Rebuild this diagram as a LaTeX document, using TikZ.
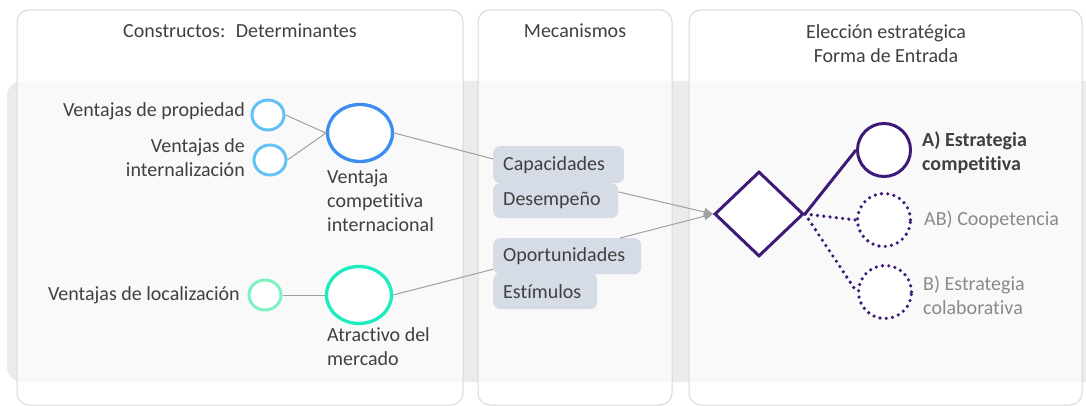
\documentclass[tikz,border=0pt]{standalone}
\usepackage{fontspec}
\setmainfont{Carlito}[Ligatures={NoCommon,NoRare,NoDiscretionary}]
\usetikzlibrary{shapes.geometric,arrows.meta}
\definecolor{bandgray}{HTML}{EBEBEB}
\definecolor{panelline}{HTML}{D9D9D9}
\definecolor{txt}{HTML}{404040}
\definecolor{ltxt}{HTML}{8A8A8A}
\definecolor{lblue}{HTML}{62C2F6}
\definecolor{mblue}{HTML}{3D8EF0}
\definecolor{lgreen}{HTML}{7EF2C0}
\definecolor{tgreen}{HTML}{1DEBC0}
\definecolor{purp}{HTML}{3D1A78}
\definecolor{mechfill}{HTML}{D6DCE5}
\definecolor{connc}{HTML}{A0A0A0}
\begin{document}
\begin{tikzpicture}[x=1pt,y=-1pt,
  lbl/.style={inner sep=0, text=txt, font=\fontsize{20}{24}\selectfont},
  panel/.style={draw=panelline, line width=1, fill=white, fill opacity=0.7, rounded corners=12},
  sc/.style={ellipse, fill=white, line width=3, minimum width=32, minimum height=30, inner sep=0},
  bc/.style={ellipse, fill=white, line width=3.3, minimum width=65, minimum height=57, inner sep=0},
  pc/.style={ellipse, fill=white, draw=purp, line width=3, minimum width=53, minimum height=53, inner sep=0},
  dotline/.style={draw=purp, line width=3.6, dash pattern=on 0pt off 6.3pt, line cap=round},
  mech/.style={fill=mechfill, rounded corners=7, inner xsep=10, inner ysep=0, minimum height=36, anchor=north west, align=left, text=txt, font=\fontsize{20}{24}\selectfont},
  conn/.style={draw=connc, line width=1},
  tip/.style={-{Triangle[length=9pt,width=8pt]}}
]
\useasboundingbox (0,0) rectangle (1086,406);
% background band
\fill[bandgray, rounded corners=15] (7,81) rectangle (1110,382);
% panels
\path[panel] (17,10) rectangle (463,405);
\path[panel] (478,10) rectangle (672,405);
\path[panel] (689,10) rectangle (1082,405);
% titles
\node[lbl] (t1) at (240,31) {Constructos:~ Determinantes};
\node[lbl] (t2) at (575,31) {Mecanismos};
\node[lbl, align=center] (t3) at (886,43.5) {Elección estratégica\\Forma de Entrada};
% circles
\node[sc, draw=lblue] (vp) at (268,115) {};
\node[sc, draw=lblue] (vi) at (270,160) {};
\node[bc, draw=mblue] (vci) at (360,133) {};
\node[sc, draw=lgreen] (vl) at (265,295) {};
\node[bc, draw=tgreen] (am) at (359,295) {};
% labels
\node[lbl, anchor=east, align=right] (tvp) at (245,111) {Ventajas de propiedad};
\node[lbl, anchor=east, align=right] (tvi) at (245,158) {Ventajas de\\internalización};
\node[lbl, anchor=east] (tvl) at (240,295) {Ventajas de localización};
\node[lbl, anchor=west, align=left] (tvci) at (327,201) {Ventaja\\competitiva\\internacional};
\node[lbl, anchor=west, align=left] (tam) at (327,347) {Atractivo del\\mercado};
% mechanisms
\node[mech, text width=111, minimum height=37] (cap) at (493,146) {Capacidades};
\node[mech, text width=105, minimum height=35] (des) at (493,183) {Desempeño};
\node[mech, text width=128] (opo) at (493,238) {Oportunidades};
\node[mech, text width=84] (est) at (493,273) {Estímulos};
% decision
\node[diamond, draw=purp, line width=3, fill=white, minimum width=89, minimum height=85, inner sep=0] (dia) at (759,214) {};
\node[pc] (ca) at (884,150) {};
\node[pc, dotline, fill=white] (cab) at (884,220) {};
\node[pc, dotline, fill=white] (cb) at (885,292) {};
\node[lbl, font=\fontsize{20}{24}\selectfont\bfseries, anchor=west, align=left] (ta) at (922,153) {A) Estrategia\\competitiva};
\node[lbl, text=ltxt, anchor=west] (tab) at (924,220) {AB) Coopetencia};
\node[lbl, text=ltxt, anchor=west, align=left] (tb) at (923,295) {B) Estrategia\\colaborativa};
% connectors
\draw[conn] (vp.east) -- (vci.west);
\draw[conn] (vi.east) -- (vci.west);
\draw[conn] (vl.east) -- (am.west);
\draw[conn] (vci.east) -- (cap.175);
\draw[conn] (am.east) -- (opo.190);
\draw[conn, tip] (des.8) -- (dia.west);
\draw[conn, tip] (opo.19) -- (dia.west);
\draw[draw=purp, line width=3] (dia.east) -- (ca.west);
\draw[dotline] (dia.east) -- (cab.west);
\draw[dotline] (dia.east) -- (cb.west);
\end{tikzpicture}
\end{document}
